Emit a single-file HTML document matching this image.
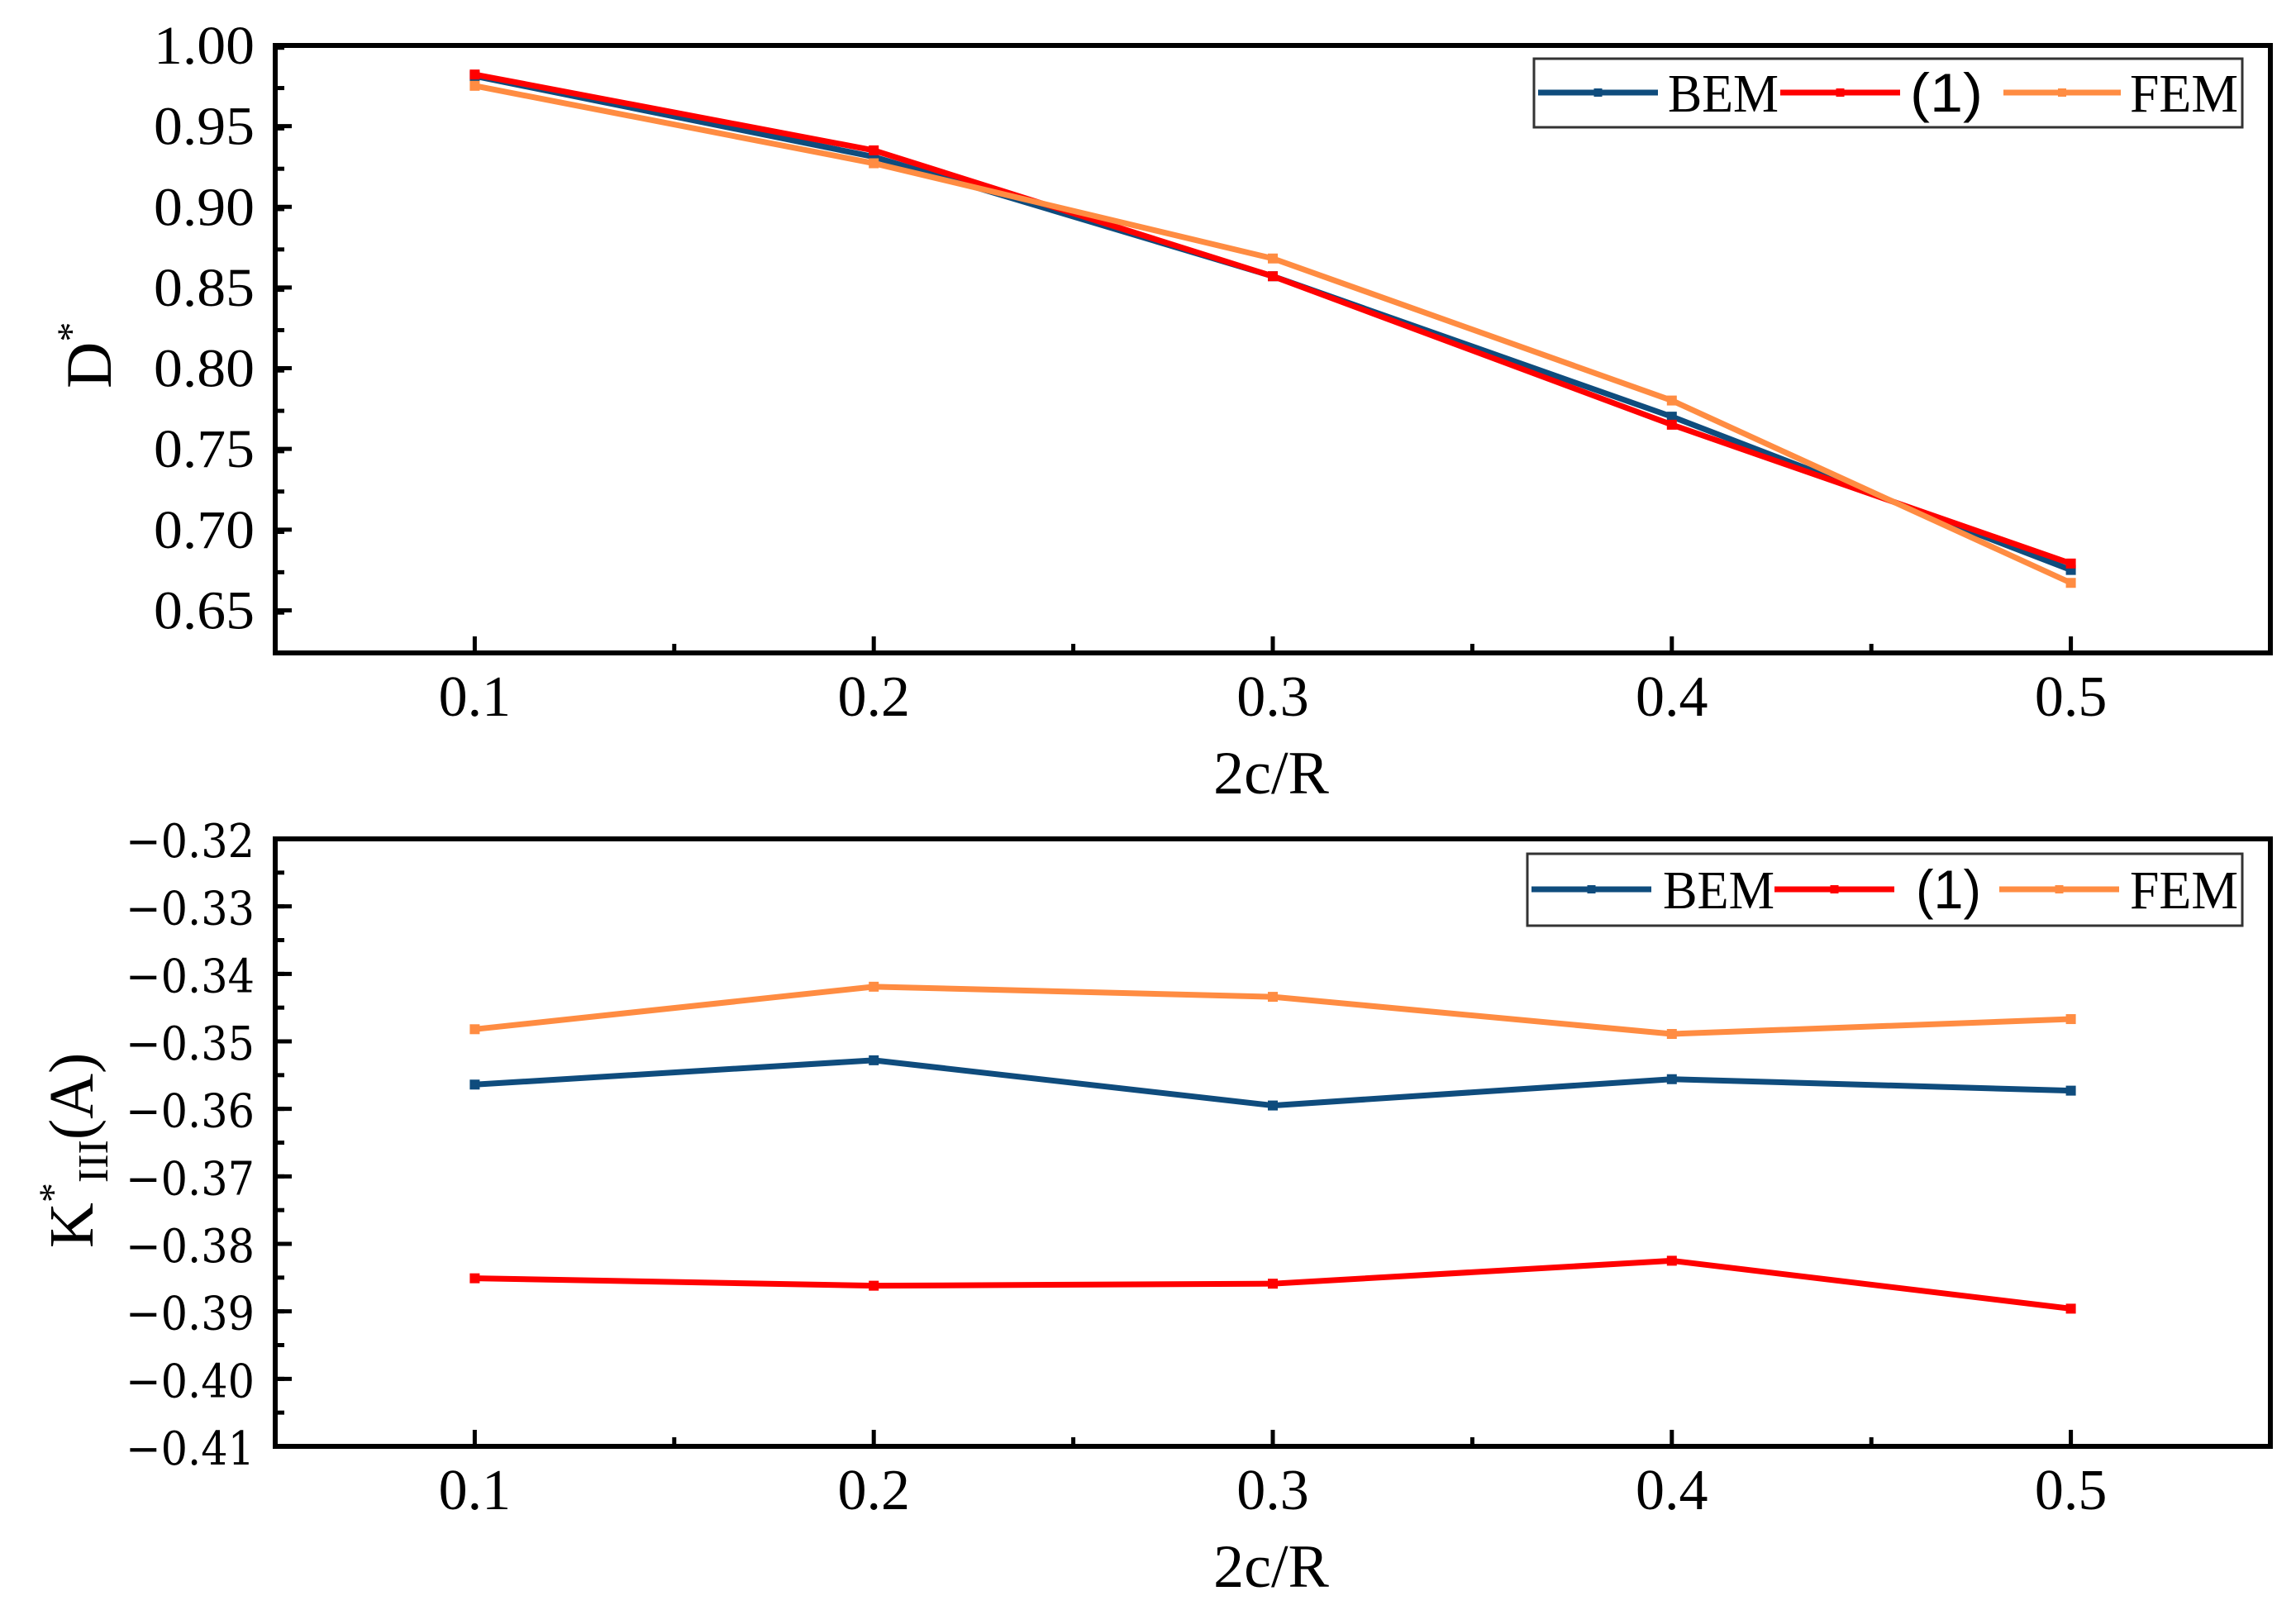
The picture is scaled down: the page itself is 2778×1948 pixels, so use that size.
<!DOCTYPE html>
<html><head><meta charset="utf-8"><style>
html,body{margin:0;padding:0;background:#fff;}
svg{display:block;}
</style></head><body>
<svg id="chart" width="2778" height="1948" viewBox="0 0 2778 1948" xmlns="http://www.w3.org/2000/svg"></svg>
<script>
const xCats = [0.1, 0.2, 0.3, 0.4, 0.5];
const xTickLabels = ["0.1", "0.2", "0.3", "0.4", "0.5"];
const topBEM = [0.981, 0.931, 0.857, 0.770, 0.675];
const topEq1 = [0.982, 0.935, 0.857, 0.765, 0.679];
const topFEM = [0.975, 0.927, 0.868, 0.780, 0.667];
const topTicks = [1.00, 0.95, 0.90, 0.85, 0.80, 0.75, 0.70, 0.65];
const topTickLabels = ["1.00", "0.95", "0.90", "0.85", "0.80", "0.75", "0.70", "0.65"];
const botBEM = [-0.3564, -0.3528, -0.3595, -0.3556, -0.3573];
const botEq1 = [-0.3851, -0.3862, -0.3859, -0.3825, -0.3896];
const botFEM = [-0.3482, -0.3419, -0.3434, -0.3489, -0.3467];
const botTicks = [-0.32, -0.33, -0.34, -0.35, -0.36, -0.37, -0.38, -0.39, -0.40, -0.41];
const botTickLabels = ["\u22120.32", "\u22120.33", "\u22120.34", "\u22120.35", "\u22120.36", "\u22120.37", "\u22120.38", "\u22120.39", "\u22120.40", "\u22120.41"];

const NS = "http://www.w3.org/2000/svg";
const svg = document.getElementById("chart");
const C = {bem: "#0f4c7d", eq: "#ff0000", fem: "#ff8c42"};
function mk(tag, attrs, parent) {
  const e = document.createElementNS(NS, tag);
  for (const k in attrs) e.setAttribute(k, attrs[k]);
  (parent || svg).appendChild(e);
  return e;
}
const X0 = 333, X1 = 2747, XMIN = 0.05, XMAX = 0.55;
const xs = v => X0 + (v - XMIN) / (XMAX - XMIN) * (X1 - X0);

function panel(name, top, bottom, ymin, ymax, ticks, labels, minorStep, series, legend, serifTicks) {
  const g = mk("g", {});
  
  
  const ys = v => bottom - (v - ymin) / (ymax - ymin) * (bottom - top);
  for (let i = 0; i < ticks.length; i++) {
    const y = ys(ticks[i]);
    const t = mk("line", {x1: X0, x2: X0 + 20, y1: y, y2: y, stroke: "#000", "stroke-width": 5}, g);
    
    
    const lab = mk("text", {x: 308, y: y + 22, "text-anchor": "end", "font-size": serifTicks ? 66 : 56,
      "font-family": serifTicks ? "Liberation Serif, serif" : "DejaVu Serif, serif"}, g);
    lab.setAttribute("textLength", serifTicks ? 122 : 156);
    lab.setAttribute("lengthAdjust", "spacingAndGlyphs");
    lab.textContent = labels[i];
    
    
  }
  for (let v = ymin + minorStep; v < ymax; v += minorStep) {
    const y = ys(v);
    mk("line", {x1: X0, x2: X0 + 11, y1: y, y2: y, stroke: "#000", "stroke-width": 5}, g);
  }
  for (let i = 0; i < xCats.length; i++) {
    const x = xs(xCats[i]);
    const t = mk("line", {x1: x, x2: x, y1: bottom, y2: bottom - 20, stroke: "#000", "stroke-width": 5}, g);
    
    
    const lab = mk("text", {x: x, y: bottom + 76, "text-anchor": "middle", "font-size": 70, "font-family": "Liberation Serif, serif"}, g);
    lab.textContent = xTickLabels[i];
    
    
    if (i < xCats.length - 1) {
      const xm = xs((xCats[i] + xCats[i + 1]) / 2);
      mk("line", {x1: xm, x2: xm, y1: bottom, y2: bottom - 11, stroke: "#000", "stroke-width": 5}, g);
    }
  }
  const xt = mk("text", {x: 1538, y: bottom + 170, "text-anchor": "middle", "font-size": 74, "font-family": "Liberation Serif, serif"}, g);
  xt.textContent = "2c/R";
  
  
  series.forEach(s => {
    const pts = s.vals.map((v, i) => xs(xCats[i]) + "," + ys(v)).join(" ");
    const pl = mk("polyline", {points: pts, fill: "none", stroke: s.color, "stroke-width": 7, "stroke-linejoin": "round"}, g);
    
    
    s.vals.forEach((v, i) => {
      const m = mk("rect", {x: xs(xCats[i]) - 6, y: ys(v) - 6, width: 12, height: 12, fill: s.color}, g);
      
      
    });
  });
  const fr = mk("rect", {x: X0, y: top, width: X1 - X0, height: bottom - top, fill: "none", stroke: "#000", "stroke-width": 6}, g);
  
  
  const lg = mk("g", {}, g);
  
  
  mk("rect", {x: legend.x0, y: legend.y0, width: legend.x1 - legend.x0, height: legend.y1 - legend.y0, fill: "#fff", stroke: "#333", "stroke-width": 3}, lg);
  legend.items.forEach(it => {
    const e = mk("g", {}, lg);
    
    
    mk("line", {x1: it.l0, x2: it.l1, y1: legend.ly, y2: legend.ly, stroke: it.color, "stroke-width": 7}, e);
    mk("rect", {x: (it.l0 + it.l1) / 2 - 5, y: legend.ly - 5, width: 10, height: 10, fill: it.color}, e);
    const t = mk("text", {x: it.tx, y: legend.ly + 23, "font-size": 66, "font-family": it.sans ? "Liberation Sans, sans-serif" : "Liberation Serif, serif"}, e);
    t.setAttribute("textLength", it.tw);
    t.setAttribute("lengthAdjust", "spacingAndGlyphs");
    t.textContent = it.label;
  });
  return g;
}

panel("top-panel", 55, 790, 0.6236, 1.00, topTicks, topTickLabels, 0.025,
  [{name: "bem", vals: topBEM, color: C.bem}, {name: "eq1", vals: topEq1, color: C.eq}, {name: "fem", vals: topFEM, color: C.fem}],
  {x0: 1856, x1: 2713, y0: 71, y1: 154, ly: 112, items: [
    {l0: 1861, l1: 2006, tx: 2018, tw: 134, label: "BEM", color: C.bem},
    {l0: 2154, l1: 2299, tx: 2311, tw: 88, label: "(1)", color: C.eq, sans: true},
    {l0: 2424, l1: 2566, tx: 2577, tw: 131, label: "FEM", color: C.fem}]}, true);

panel("bottom-panel", 1015, 1750, -0.41, -0.32, botTicks, botTickLabels, 0.005,
  [{name: "bem", vals: botBEM, color: C.bem}, {name: "eq1", vals: botEq1, color: C.eq}, {name: "fem", vals: botFEM, color: C.fem}],
  {x0: 1848, x1: 2713, y0: 1033, y1: 1120, ly: 1076, items: [
    {l0: 1853, l1: 1998, tx: 2012, tw: 135, label: "BEM", color: C.bem},
    {l0: 2147, l1: 2292, tx: 2318, tw: 79, label: "(1)", color: C.eq, sans: true},
    {l0: 2419, l1: 2564, tx: 2577, tw: 131, label: "FEM", color: C.fem}]}, false);

const yt1 = mk("text", {x: 0, y: 0, transform: "translate(134,470) rotate(-90)", "font-size": 78, "font-family": "Liberation Serif, serif"});
yt1.innerHTML = 'D<tspan dy="-32" font-size="48">*</tspan>';


const yt2 = mk("text", {x: 0, y: 0, transform: "translate(112,1510) rotate(-90)", "font-size": 76, "font-family": "Liberation Serif, serif"});
yt2.innerHTML = 'K<tspan dy="-32" font-size="48">*</tspan><tspan dy="50" font-size="52">III</tspan><tspan dy="-18">(A)</tspan>';


</script>
</body></html>
